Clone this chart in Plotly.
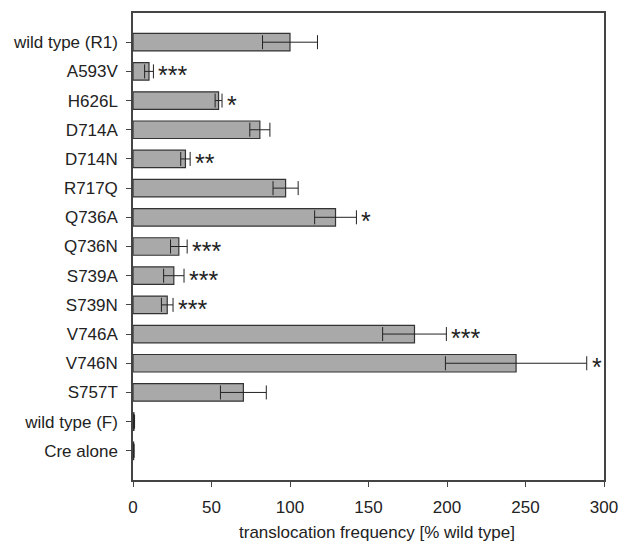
import plotly.graph_objects as go

categories = ["wild type (R1)", "A593V", "H626L", "D714A", "D714N", "R717Q", "Q736A",
              "Q736N", "S739A", "S739N", "V746A", "V746N", "S757T", "wild type (F)", "Cre alone"]
values = [100.0, 10.2, 54.5, 80.8, 33.4, 97.2, 129.0, 29.2, 26.0, 21.8, 179.3, 244.0, 70.3, 0.6, 0.4]
errors = [17.5, 2.8, 2.2, 6.4, 3.0, 8.0, 13.3, 5.3, 6.5, 3.7, 20.3, 45.0, 14.6, 0.4, 0.3]
significance = ["", "***", "*", "", "**", "", "*", "***", "***", "***", "***", "*", "", "", ""]
x_ticks = [0, 50, 100, 150, 200, 250, 300]

FONT = "Liberation Sans, Arial, sans-serif"
TXT = "#222222"
AX = "#444444"

fig = go.Figure()
fig.add_trace(go.Bar(
    y=categories, x=values, orientation="h", width=0.6,
    marker=dict(color="#a9a9a9", line=dict(color="#333333", width=1.2)),
    error_x=dict(type="data", array=errors, visible=True, color="#222222",
                 thickness=1, width=7),
    showlegend=False,
))

for cat, v, e, s in zip(categories, values, errors, significance):
    if s:
        fig.add_annotation(x=v + e, y=cat, text=s, showarrow=False,
                           xanchor="left", yanchor="middle", xshift=3, yshift=-4,
                           font=dict(family=FONT, size=25, color=TXT))

fig.add_annotation(x=0.517, y=0, xref="paper", yref="paper", yshift=-52,
                   text="translocation frequency [% wild type]", showarrow=False,
                   xanchor="center", yanchor="middle",
                   font=dict(family=FONT, size=17, color=TXT))

# page body has an 8px margin: figure sized/offset so the plot lands where the reference is
fig.update_layout(
    width=620, height=533,
    margin=dict(l=125, r=24, t=3, b=61),
    paper_bgcolor="white", plot_bgcolor="white",
    font=dict(family=FONT, size=17, color=TXT),
    bargap=0.4,
)
fig.update_xaxes(range=[0, 300], tickvals=x_ticks, ticks="outside", ticklen=5,
                 tickcolor=AX, showgrid=False, zeroline=False, ticklabelstandoff=6,
                 showline=True, linecolor=AX, linewidth=1.5, mirror=True,
                 tickfont=dict(family=FONT, size=17, color=TXT))
fig.update_yaxes(type="category", categoryorder="array", categoryarray=categories,
                 range=[15, -1], ticks="outside", ticklen=5, tickcolor=AX,
                 showgrid=False, zeroline=False, ticklabelstandoff=5,
                 showline=True, linecolor=AX, linewidth=1.5, mirror=True,
                 tickfont=dict(family=FONT, size=17, color=TXT))

fig.write_html("out.html")
